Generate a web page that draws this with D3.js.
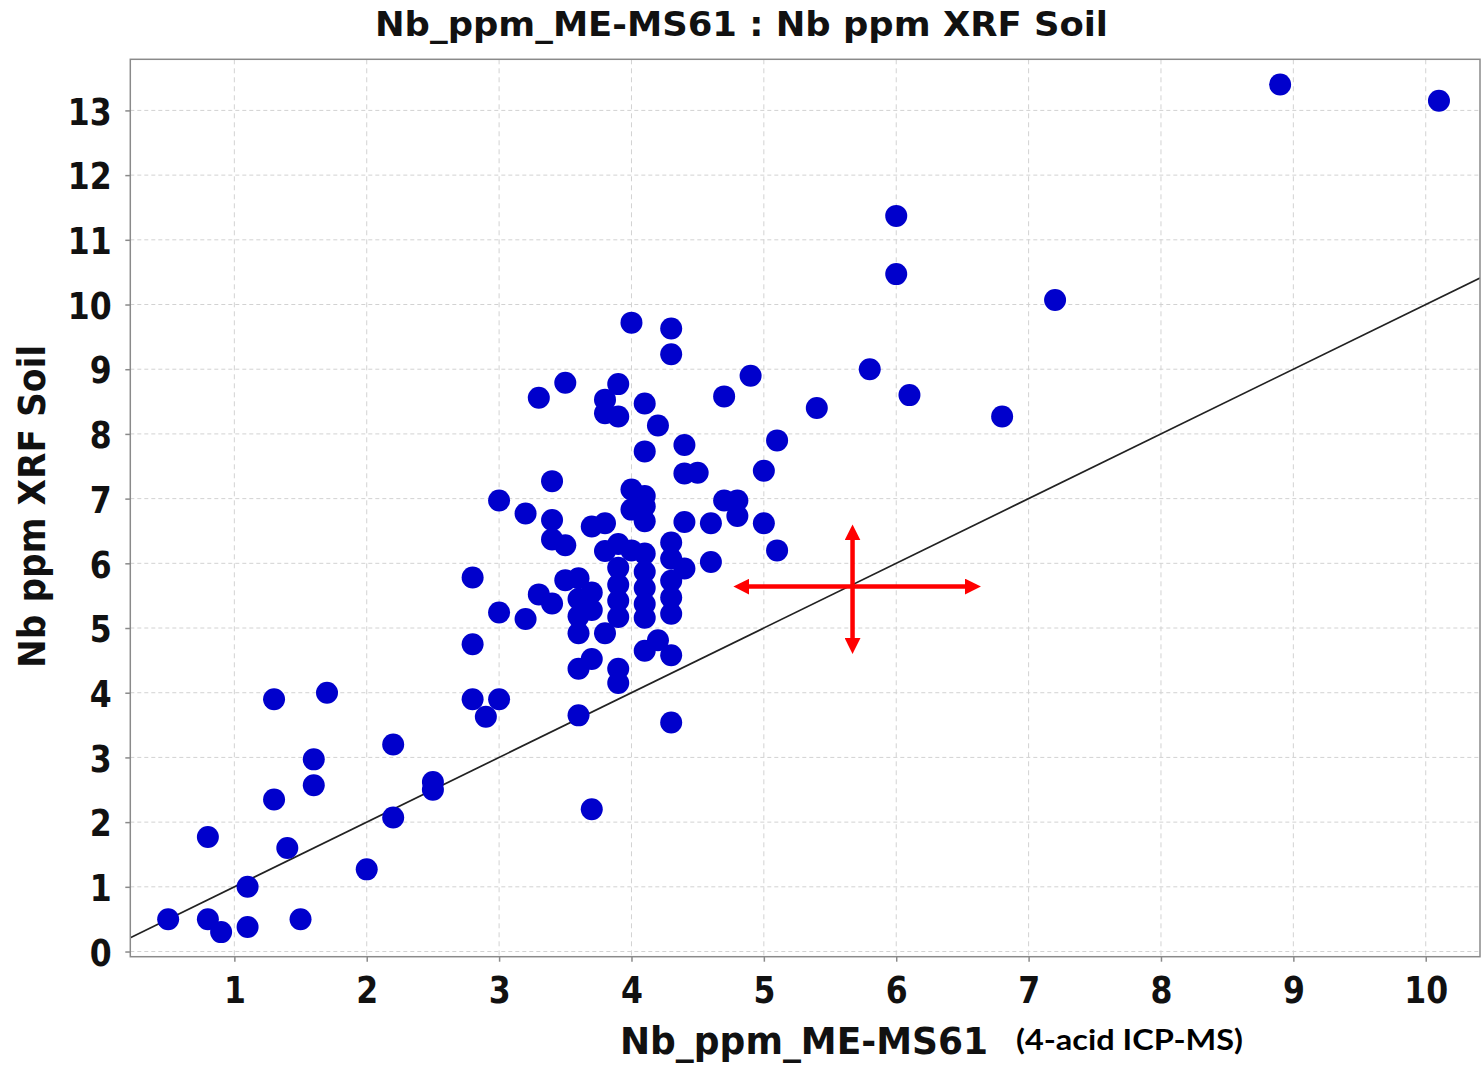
<!DOCTYPE html>
<html>
<head>
<meta charset="utf-8">
<script src="https://cdn.jsdelivr.net/npm/d3@7"></script>
<style>
	body { margin: 0; background: #ffffff; }
</style>
</head>
<body>
<div id="myScatter"></div>
<script>
// Nb ppm, 4-acid ICP-MS (ME-MS61) on x against handheld XRF soil on y
const icpNb = [0.5, 0.8, 0.9, 1.1, 1.1, 1.5, 0.8, 1.4, 1.3, 1.3, 1.6, 1.6, 1.7, 2.0, 2.2, 2.2, 2.5, 2.5, 2.8, 2.9,
	3.0, 2.8, 2.8, 3.0, 3.0, 3.2, 3.2, 3.3, 3.3, 3.4, 3.4, 3.4, 3.4, 3.5, 3.5, 3.5, 3.6, 3.6, 3.6, 3.6,
	3.6, 3.6, 3.7, 3.7, 3.7, 3.7, 3.7, 3.8, 3.8, 3.8, 3.8, 3.8, 3.9, 3.9, 3.9, 3.9, 3.9, 3.9, 3.9, 3.9,
	3.9, 4.0, 4.0, 4.0, 4.0, 4.1, 4.1, 4.1, 4.1, 4.1, 4.1, 4.1, 4.1, 4.1, 4.1, 4.1, 4.2, 4.2, 4.3, 4.3,
	4.3, 4.3, 4.3, 4.3, 4.3, 4.3, 4.3, 4.4, 4.4, 4.4, 4.4, 4.5, 4.6, 4.6, 4.7, 4.7, 4.8, 4.8, 4.9, 5.0,
	5.0, 5.1, 5.1, 5.4, 5.8, 6.1, 6.8, 6.0, 6.0, 7.2, 8.9, 10.1];
const xrfNb = [0.5, 0.5, 0.3, 0.38, 1.0, 0.5, 1.77, 1.6, 2.35, 3.9, 2.97, 2.57, 4.0, 1.27, 3.2, 2.07, 2.62, 2.5, 3.9, 3.63,
	3.9, 4.75, 5.78, 5.24, 6.97, 5.14, 6.77, 5.52, 8.56, 5.38, 7.27, 6.67, 6.37, 6.28, 8.79, 5.74, 5.77, 5.45, 5.18, 4.92,
	4.37, 3.65, 5.55, 5.28, 4.52, 6.57, 2.2, 6.62, 6.19, 4.92, 8.53, 8.32, 8.77, 8.27, 6.3, 5.93, 5.67, 5.42, 5.17, 4.37,
	4.15, 9.72, 7.14, 6.83, 6.2, 8.47, 7.73, 7.04, 6.88, 6.65, 6.15, 5.87, 5.62, 5.37, 5.16, 4.65, 8.13, 4.81, 9.63, 9.23,
	6.32, 6.07, 5.73, 5.47, 5.22, 4.58, 3.54, 7.83, 7.39, 6.64, 5.92, 7.4, 6.62, 6.02, 8.58, 6.97, 6.97, 6.73, 8.9, 7.43,
	6.62, 7.9, 6.2, 8.4, 9.0, 8.6, 8.27, 11.37, 10.47, 10.07, 13.4, 13.15];

const xTicks = [1, 2, 3, 4, 5, 6, 7, 8, 9, 10];
const yTicks = [0, 1, 2, 3, 4, 5, 6, 7, 8, 9, 10, 11, 12, 13];

// red cross marking the centre of the cloud (data units)
const crossCentre = [5.67, 5.64];
const crossX = [4.77, 6.64];
const crossY = [4.6, 6.6];

function plotScatter() {
	var width = 1482, height = 1066;
	var plot = {left: 130.3, right: 1480, top: 59.3, bottom: 956.7};

	var svg = d3.select('#myScatter')
		.append('svg')
		.attr('width', width)
		.attr('height', height)
		.style('font-family', '"DejaVu Sans", sans-serif');

	svg.append('rect')
		.attr('width', width)
		.attr('height', height)
		.attr('fill', '#ffffff');

	var x = d3.scaleLinear().domain([0.214, 10.41]).range([plot.left, plot.right]);
	var y = d3.scaleLinear().domain([-0.08, 13.79]).range([plot.bottom, plot.top]);

	svg.append('clipPath')
		.attr('id', 'plotClip')
		.append('rect')
		.attr('x', plot.left)
		.attr('y', plot.top)
		.attr('width', plot.right - plot.left)
		.attr('height', plot.bottom - plot.top);

	// dashed grid
	svg.append('g')
		.selectAll('line')
		.data(xTicks)
		.enter().append('line')
		.attr('x1', d => x(d)).attr('x2', d => x(d))
		.attr('y1', plot.top).attr('y2', plot.bottom)
		.attr('stroke', '#d2d2d2')
		.attr('stroke-dasharray', '5,4');
	svg.append('g')
		.selectAll('line')
		.data(yTicks)
		.enter().append('line')
		.attr('x1', plot.left).attr('x2', plot.right)
		.attr('y1', d => y(d)).attr('y2', d => y(d))
		.attr('stroke', '#d2d2d2')
		.attr('stroke-dasharray', '4,3');

	// 1:1 line
	var xd = x.domain();
	svg.append('path')
		.datum([xd[0], xd[1]])
		.attr('clip-path', 'url(#plotClip)')
		.attr('d', d3.line().x(d => x(d)).y(d => y(d)))
		.attr('fill', 'none')
		.attr('stroke', '#222222')
		.attr('stroke-width', 1.7);

	// points
	svg.append('g')
		.selectAll('circle')
		.data(d3.range(icpNb.length))
		.enter().append('circle')
		.attr('cx', i => x(icpNb[i]))
		.attr('cy', i => y(xrfNb[i]))
		.attr('r', 11)
		.attr('fill', '#0000cc');

	// frame
	svg.append('rect')
		.attr('x', plot.left)
		.attr('y', plot.top)
		.attr('width', plot.right - plot.left)
		.attr('height', plot.bottom - plot.top)
		.attr('fill', 'none')
		.attr('stroke', '#8a8a8a')
		.attr('stroke-width', 1.5);

	// axes
	var yAxis = svg.append('g')
		.attr('transform', 'translate(' + plot.left + ',0)')
		.call(d3.axisLeft(y).tickValues(yTicks).tickSize(5).tickFormat(d3.format('d')));
	var xAxis = svg.append('g')
		.attr('transform', 'translate(0,' + plot.bottom + ')')
		.call(d3.axisBottom(x).tickValues(xTicks).tickSize(5).tickFormat(d3.format('d')));

	svg.selectAll('.domain').remove();
	svg.selectAll('.tick line').attr('stroke', '#8a8a8a').attr('stroke-width', 1.5);
	svg.selectAll('.tick text')
		.attr('fill', '#111111')
		.style('font-family', '"DejaVu Sans", sans-serif')
		.style('font-size', '38px')
		.style('font-weight', 'bold')
		.attr('transform', 'scale(0.83,1)');
	yAxis.selectAll('.tick text')
		.attr('x', -18.6 / 0.83)
		.attr('dy', '0.36em');
	xAxis.selectAll('.tick text')
		.attr('y', 46.5)
		.attr('dy', 0);

	// red cross
	var defs = svg.append('defs');
	defs.append('marker')
		.attr('id', 'redHead')
		.attr('viewBox', '0 0 16 16')
		.attr('refX', 4)
		.attr('refY', 8)
		.attr('markerUnits', 'userSpaceOnUse')
		.attr('markerWidth', 16)
		.attr('markerHeight', 16)
		.attr('orient', 'auto-start-reverse')
		.append('path')
		.attr('d', 'M0,0 L16,8 L0,16 Z')
		.attr('fill', '#ff0000');

	var cy = y(crossCentre[1]), cx = x(crossCentre[0]);
	svg.append('line')
		.attr('x1', x(crossX[0]) + 12).attr('x2', x(crossX[1]) - 12)
		.attr('y1', cy).attr('y2', cy)
		.attr('stroke', '#ff0000')
		.attr('stroke-width', 4.5)
		.attr('marker-start', 'url(#redHead)')
		.attr('marker-end', 'url(#redHead)');
	svg.append('line')
		.attr('x1', cx).attr('x2', cx)
		.attr('y1', y(crossY[1]) + 12).attr('y2', y(crossY[0]) - 12)
		.attr('stroke', '#ff0000')
		.attr('stroke-width', 4.5)
		.attr('marker-start', 'url(#redHead)')
		.attr('marker-end', 'url(#redHead)');

	// titles
	svg.append('text')
		.attr('x', 741.5)
		.attr('y', 36)
		.attr('text-anchor', 'middle')
		.attr('textLength', 733)
		.attr('lengthAdjust', 'spacingAndGlyphs')
		.style('font-size', '34px')
		.style('font-weight', 'bold')
		.attr('fill', '#111111')
		.text('Nb_ppm_ME-MS61 : Nb ppm XRF Soil');

	svg.append('text')
		.attr('transform', 'translate(45,506.5) rotate(-90)')
		.attr('text-anchor', 'middle')
		.attr('textLength', 323)
		.attr('lengthAdjust', 'spacingAndGlyphs')
		.style('font-size', '37px')
		.style('font-weight', 'bold')
		.attr('fill', '#111111')
		.text('Nb ppm XRF Soil');

	svg.append('text')
		.attr('x', 804)
		.attr('y', 1054)
		.attr('text-anchor', 'middle')
		.attr('textLength', 368)
		.attr('lengthAdjust', 'spacingAndGlyphs')
		.style('font-size', '37px')
		.style('font-weight', 'bold')
		.attr('fill', '#111111')
		.text('Nb_ppm_ME-MS61');

	svg.append('text')
		.attr('x', 1129.5)
		.attr('y', 1050)
		.attr('text-anchor', 'middle')
		.attr('textLength', 227)
		.attr('lengthAdjust', 'spacingAndGlyphs')
		.style('font-family', 'Lato, "Open Sans", sans-serif')
		.style('font-size', '29px')
		.style('font-weight', 'bold')
		.attr('fill', '#000000')
		.text('(4-acid ICP-MS)');
}

document.addEventListener('DOMContentLoaded', plotScatter, false);
</script>
</body>
</html>
